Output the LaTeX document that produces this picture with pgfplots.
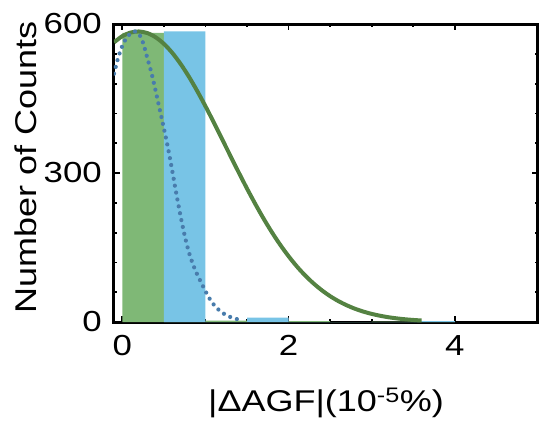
\documentclass[border=0pt]{standalone}
\usepackage{fontspec}
\setmainfont{Liberation Sans}[FakeStretch=1.2]
\usepackage{pgfplots}
\pgfplotsset{compat=1.18}
\definecolor{greenbar}{RGB}{127,184,118}
\definecolor{bluebar}{RGB}{120,196,230}
\definecolor{greenline}{RGB}{84,130,66}
\definecolor{dotblue}{RGB}{72,124,172}
\begin{document}
\begin{tikzpicture}
\begin{axis}[name=ax, scale only axis, width=424pt, height=298pt,
  xmin=-0.1, xmax=5, ymin=0, ymax=600,
  xtick={0,2,4}, ytick={0,300,600},
  minor x tick num=3, minor y tick num=4,
  tick align=inside,
  axis line style={line width=3pt},
  major tick length=6pt, minor tick length=3pt,
  every tick/.style={black, line width=1.8pt},
  /pgf/number format/assume math mode=true,
  ticklabel style={font=\fontsize{29}{34}\selectfont, inner sep=0pt},
  xticklabel style={anchor=north, yshift=-13pt},
  yticklabel style={anchor=east, xshift=-12pt},
  label style={font=\fontsize{30}{36}\selectfont},
  xlabel={|ΔAGF|(10\textsuperscript{-5}\%)},
  ylabel={Number of Counts},
  xlabel style={at={(axis description cs:0.5,-0.272)}, anchor=center},
  ylabel style={at={(axis description cs:-0.2075,0.52)}, anchor=center},
]
\addplot[ybar interval, fill=greenbar, draw=none] coordinates {
(0,582) (0.5,0) (1,3) (1.5,0) (2,2) (2.5,0) (3,1) (3.5,0) (4,0)};
\addplot[ybar interval, fill=bluebar, draw=none] coordinates {
(0.5,585) (1,0) (1.5,9) (2,0) (2.5,0) (3,0) (3.5,2) (4,0)};
\addplot[greenline, line width=4pt, smooth] coordinates {
(-0.1,563) (0.0,575.5) (0.1,582.8) (0.2,585) (0.3,581.8) (0.4,573.4)
(0.5,560.1) (0.6,542.1) (0.7,519.9) (0.8,494.2) (0.9,465.4) (1.0,434.5)
(1.1,401.9) (1.2,368.3) (1.3,334.6) (1.4,301.2) (1.5,268.6) (1.6,237.5)
(1.7,208.0) (1.8,180.5) (1.9,155.3) (2.0,132.4) (2.1,111.8) (2.2,93.6)
(2.3,77.7) (2.4,63.9) (2.5,52.0) (2.6,42.0) (2.7,33.6) (2.8,26.6)
(2.9,20.9) (3.0,16.3) (3.1,12.6) (3.2,9.6) (3.3,7.3) (3.4,5.5)
(3.5,4.1) (3.6,3.0)};
\addplot[dotblue, line width=4.2pt, line cap=round, dash pattern=on 0pt off 7pt, smooth] coordinates {
(-0.1,500) (-0.05,532) (0.0,556) (0.05,572) (0.1,581) (0.15,585)
(0.2,580) (0.25,562) (0.3,532) (0.35,502) (0.4,466) (0.45,428)
(0.5,390) (0.55,350) (0.6,305) (0.65,258) (0.7,214) (0.75,174)
(0.8,141) (0.85,116) (0.9,96) (0.95,79) (1.0,62) (1.05,47)
(1.1,35) (1.15,26) (1.2,19) (1.25,14) (1.3,10) (1.35,7)
(1.4,5) (1.45,4)};
\end{axis}
\pgfresetboundingbox
\path ([shift={(-114pt,-112pt)}]ax.south west) rectangle ++(550pt,434pt);
\end{tikzpicture}
\end{document}
